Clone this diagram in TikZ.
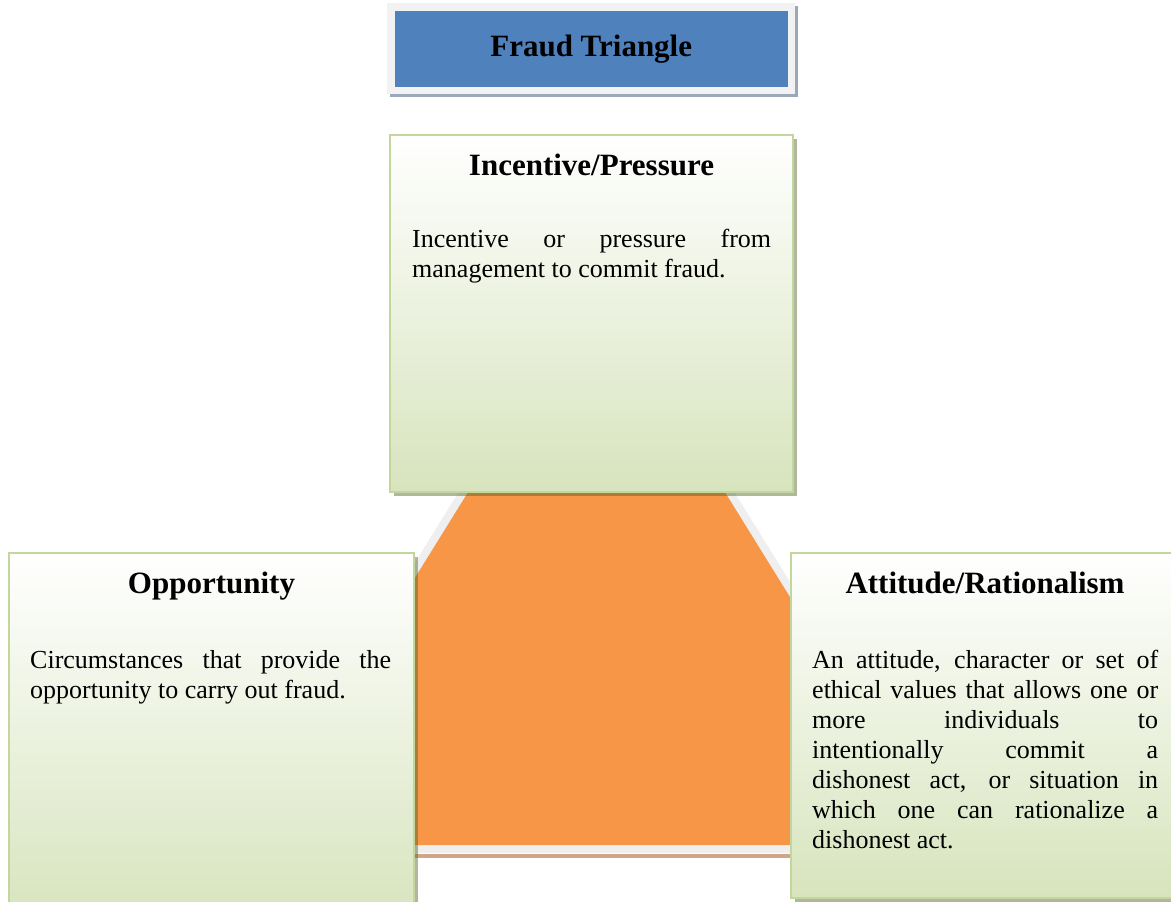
\documentclass[tikz,border=0pt]{standalone}
\usepackage{fontspec}
\setmainfont{Liberation Serif}
\usetikzlibrary{shadows}
\definecolor{titleblue}{HTML}{4F81BD}
\definecolor{titleframe}{HTML}{F2F2F2}
\definecolor{titleshade}{HTML}{243F60}
\definecolor{cardline}{HTML}{C3D69B}
\definecolor{cardfill}{HTML}{D7E4BD}
\definecolor{cardshade}{HTML}{4F6228}
\definecolor{triorange}{HTML}{F79646}
\definecolor{trigray}{HTML}{EFEFEF}
\definecolor{tribrown}{HTML}{D1A587}
\begin{document}
\begin{tikzpicture}[x=1pt,y=-1pt,
    card/.style={draw=cardline,line width=2pt,top color=white,bottom color=cardfill,anchor=north west,inner sep=0pt,
        drop shadow={shadow xshift=4pt,shadow yshift=-4pt,fill=cardshade,opacity=.45}},
    head/.style={anchor=base,inner sep=0pt,font=\fontsize{31}{36}\selectfont\bfseries},
    body/.style={anchor=base west,align=justify,inner sep=0pt,font=\fontsize{26}{30}\selectfont}]
    \clip (0,0) rectangle (1171,902);
    \fill[white] (0,0) rectangle (1171,902);
    \fill[trigray] (596.5,270)--(234.8,853)--(958.2,853)--cycle;
    \fill[tribrown] (230,853.5) rectangle (962,858);
    \fill[triorange] (596.5,285)--(249.3,845)--(943.7,845)--cycle;
    \node[fill=titleframe,minimum width=408pt,minimum height=91pt,anchor=north west,
        drop shadow={shadow xshift=3pt,shadow yshift=-3pt,fill=titleshade,opacity=.45}] (frame) at (387,3) {};
    \node[fill=titleblue,minimum width=393pt,minimum height=76pt,inner sep=0pt,
        font=\fontsize{31}{36}\selectfont\bfseries] (title) at (frame.center) {Fraud Triangle};
    \node[card,minimum width=403pt,minimum height=357pt] (pressure) at (389,134) {};
    \node[card,minimum width=405pt,minimum height=370pt] (opportunity) at (8,552) {};
    \node[card,minimum width=388pt,minimum height=345pt] (attitude) at (790,552) {};
    \node[head] (pressureHead) at ([yshift=-41pt]pressure.north) {Incentive/Pressure};
    \node[head] (opportunityHead) at ([yshift=-41pt]opportunity.north) {Opportunity};
    \node[head] (attitudeHead) at ([yshift=-41pt]attitude.north) {Attitude/Rationalism};
    \node[body,text width=359pt] (pressureText) at ([xshift=23pt,yshift=-113pt]pressure.north west)
        {Incentive or pressure from\linebreak management to commit fraud.};
    \node[body,text width=361pt] (opportunityText) at ([xshift=22pt,yshift=-116pt]opportunity.north west)
        {Circumstances that provide the\linebreak opportunity to carry out fraud.};
    \node[body,text width=346pt] (attitudeText) at ([xshift=22pt,yshift=-116pt]attitude.north west)
        {An attitude, character or set of\linebreak ethical values that allows one or\linebreak
        more individuals to\linebreak intentionally commit a\linebreak dishonest act, or situation in\linebreak
        which one can rationalize a\linebreak dishonest act.};
\end{tikzpicture}
\end{document}
